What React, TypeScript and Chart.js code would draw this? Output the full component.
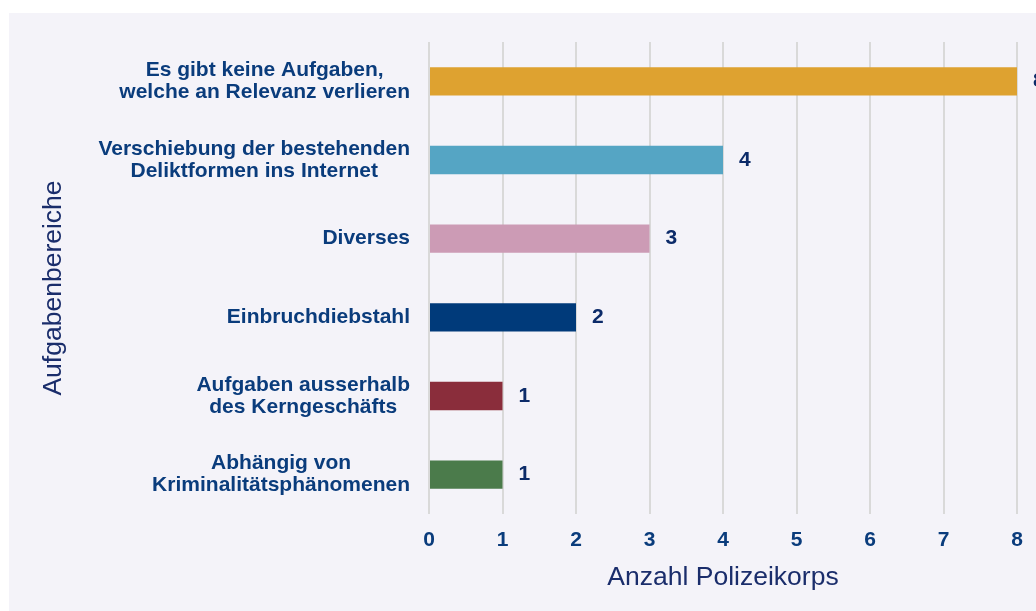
import React, { useEffect, useRef } from "react";
import { Chart, registerables } from "chart.js";

Chart.register(...registerables);

const categories: string[][] = [
  ["Es gibt keine Aufgaben,", "welche an Relevanz verlieren"],
  ["Verschiebung der bestehenden", "Deliktformen ins Internet"],
  ["Diverses"],
  ["Einbruchdiebstahl"],
  ["Aufgaben ausserhalb", "des Kerngeschäfts"],
  ["Abhängig von", "Kriminalitätsphänomenen"],
];
const values: number[] = [8, 4, 3, 2, 1, 1];
const barColors: string[] = ["#dea230", "#55a5c4", "#cc9bb5", "#003a7a", "#8a2d3b", "#4b7b4b"];
const xTicks: number[] = [0, 1, 2, 3, 4, 5, 6, 7, 8];
const xTitle = "Anzahl Polizeikorps";
const yTitle = "Aufgabenbereiche";

const FONT = '"Liberation Sans", Arial, Helvetica, sans-serif';
const TICK_COLOR = "#0a3c7c";
const VALUE_COLOR = "#0c2b69";
const TITLE_COLOR = "#1a2d6b";

const labelPlugin = {
  id: "customLabels",
  afterDraw(chart: any) {
    const ctx = chart.ctx as CanvasRenderingContext2D;
    const yScale = chart.scales.y;
    const area = chart.chartArea;
    ctx.save();
    ctx.font = `bold 21px ${FONT}`;
    ctx.fillStyle = TICK_COLOR;
    ctx.textAlign = "center";
    ctx.textBaseline = "middle";
    categories.forEach((lines, i) => {
      const cy = yScale.getPixelForValue(i);
      const maxW = Math.max(...lines.map((l) => ctx.measureText(l).width));
      const cx = area.left - 19 - maxW / 2;
      lines.forEach((l, j) => {
        ctx.fillText(l, cx, cy + (j - (lines.length - 1) / 2) * 22);
      });
    });
    const meta = chart.getDatasetMeta(0);
    ctx.fillStyle = VALUE_COLOR;
    ctx.textAlign = "left";
    meta.data.forEach((bar: any, i: number) => {
      ctx.fillText(String(values[i]), bar.x + 16, bar.y);
    });
    ctx.translate(45, (area.top + area.bottom) / 2 + 10);
    ctx.rotate(-Math.PI / 2);
    ctx.font = `26.5px ${FONT}`;
    ctx.fillStyle = TITLE_COLOR;
    ctx.textAlign = "center";
    ctx.fillText(yTitle, 0, 0);
    ctx.restore();
  },
};

export default function App() {
  const ref = useRef<HTMLCanvasElement | null>(null);
  useEffect(() => {
    if (!ref.current) return;
    const chart = new Chart(ref.current, {
      type: "bar",
      data: {
        labels: categories,
        datasets: [
          {
            data: values,
            backgroundColor: barColors,
            barPercentage: 0.36,
            categoryPercentage: 1,
          },
        ],
      },
      options: {
        indexAxis: "y",
        animation: false,
        responsive: false,
        devicePixelRatio: 1,
        layout: { padding: { top: 29, right: 52, bottom: 17, left: 0 } },
        plugins: { legend: { display: false }, tooltip: { enabled: false } },
        scales: {
          x: {
            min: 0,
            max: 8,
            afterBuildTicks: (scale: any) => {
              scale.ticks = xTicks.map((v) => ({ value: v }));
            },
            ticks: {
              font: { family: FONT, size: 21, weight: "bold" },
              color: TICK_COLOR,
              padding: 14,
            },
            grid: { color: "#d9d9d9", lineWidth: 2, drawTicks: false },
            border: { display: false },
            title: {
              display: true,
              text: xTitle,
              font: { family: FONT, size: 26.5 },
              color: TITLE_COLOR,
              padding: { top: -5, bottom: 0 },
            },
          },
          y: {
            ticks: { display: false },
            grid: { display: false },
            border: { display: false },
            afterFit: (scale: any) => {
              scale.width = 420;
            },
          },
        },
      },
      plugins: [labelPlugin],
    } as any);
    return () => chart.destroy();
  }, []);
  return (
    <div
      style={{
        position: "fixed",
        left: 9,
        top: 13,
        right: 0,
        bottom: 0,
        overflow: "hidden",
        background: "#f4f3f9",
      }}
    >
      <canvas ref={ref} width={1060} height={598} style={{ display: "block" }} />
    </div>
  );
}
